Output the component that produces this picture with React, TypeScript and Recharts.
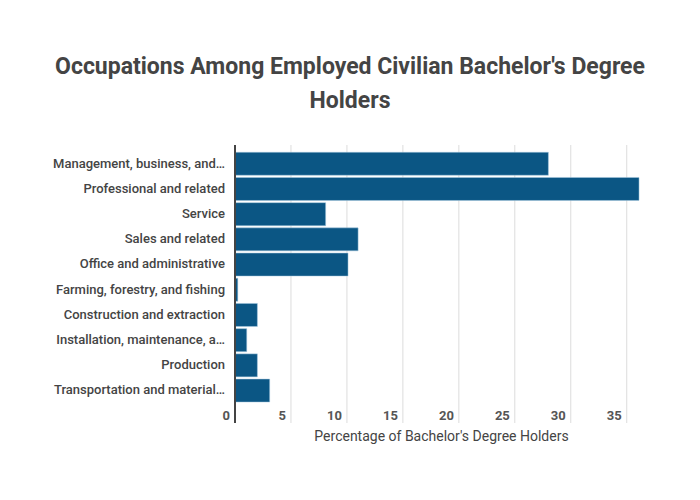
import React from "react";
import { BarChart, Bar, XAxis, YAxis, CartesianGrid } from "recharts";

const categories = [
  "Management, business, and…",
  "Professional and related",
  "Service",
  "Sales and related",
  "Office and administrative",
  "Farming, forestry, and fishing",
  "Construction and extraction",
  "Installation, maintenance, a…",
  "Production",
  "Transportation and material…",
];
const percentages = [28.0, 36.1, 8.1, 11.0, 10.1, 0.25, 2.0, 1.05, 2.0, 3.1];
const xTicks = [0, 5, 10, 15, 20, 25, 30, 35];
const xDomain: [number, number] = [0, 36.9];

const data = categories.map((name, i) => ({ name, value: percentages[i] }));

const FONT = "Roboto, 'Open Sans', sans-serif";

const YTick = (props: any) => {
  const { x, y, payload } = props;
  return (
    <text x={x - 2} y={y} dy={4} textAnchor="end" fontFamily={FONT} fontSize={13} fontWeight={500} fill="#444">
      {payload.value}
    </text>
  );
};

const XTick = (props: any) => {
  const { x, y, payload } = props;
  return (
    <text x={x - 5} y={y - 11} textAnchor="end" fontFamily={FONT} fontSize={13} fontWeight={700} fill="#555">
      {payload.value}
    </text>
  );
};

const gridGen = (p: any) => {
  const off = p.offset || {};
  const left = off.left ?? 235;
  const w = off.width ?? 413;
  return xTicks
    .filter((t) => t > 0)
    .map((t) => left + ((t - xDomain[0]) / (xDomain[1] - xDomain[0])) * w);
};

export default function App() {
  return (
    <div style={{ position: "absolute", left: 0, top: 0, width: 700, height: 500, background: "#fff", fontFamily: FONT }}>
      <div
        style={{
          position: "absolute",
          left: 0,
          top: 50,
          width: 700,
          textAlign: "center",
          fontSize: 23,
          fontWeight: 700,
          color: "#444",
          lineHeight: "34px",
        }}
      >
        Occupations Among Employed Civilian Bachelor's Degree
        <br />
        Holders
      </div>
      <div
        style={{
          position: "absolute",
          left: 235,
          width: 413,
          top: 428,
          textAlign: "center",
          fontSize: 14,
          color: "#444",
        }}
      >
        Percentage of Bachelor's Degree Holders
      </div>
      <div style={{ position: "absolute", left: 0, top: 0 }}>
        <BarChart
          width={700}
          height={500}
          data={data}
          layout="vertical"
          margin={{ top: 145, right: 52, bottom: 47, left: 0 }}
          barCategoryGap="5%"
        >
          <CartesianGrid
            horizontal={false}
            vertical={true}
            stroke="#dcdcdc"
            strokeWidth={1}
            verticalCoordinatesGenerator={gridGen}
          />
          <XAxis
            type="number"
            domain={xDomain}
            ticks={xTicks}
            axisLine={false}
            tickLine={false}
            height={30}
            tick={<XTick />}
            allowDataOverflow
          />
          <YAxis
            type="category"
            dataKey="name"
            width={235}
            axisLine={{ stroke: "#444", strokeWidth: 2 }}
            tickLine={false}
            tick={<YTick />}
            interval={0}
            padding={{ top: 6, bottom: 20 }}
          />
          <Bar dataKey="value" fill="#0b5684" stroke="#a9cbe0" strokeWidth={0.5} isAnimationActive={false} />
        </BarChart>
      </div>
    </div>
  );
}
